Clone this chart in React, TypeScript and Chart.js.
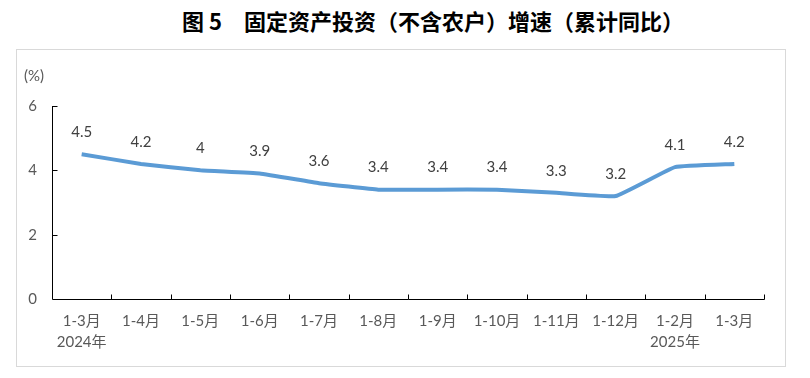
import React, { useEffect, useRef } from "react";
import { Chart, registerables } from "chart.js";

Chart.register(...registerables);

const categories: (string | string[])[] = [
  ["1-3月", "2024年"],
  "1-4月",
  "1-5月",
  "1-6月",
  "1-7月",
  "1-8月",
  "1-9月",
  "1-10月",
  "1-11月",
  "1-12月",
  ["1-2月", "2025年"],
  "1-3月",
];
const growth = [4.5, 4.2, 4.0, 3.9, 3.6, 3.4, 3.4, 3.4, 3.3, 3.2, 4.1, 4.2];
const yTicks = [0, 2, 4, 6];
const titleText = "图 5　固定资产投资（不含农户）增速（累计同比）";
const unitText = "(%)";

const FONT = "Lato, 'Noto Sans CJK SC', sans-serif";

const decor = {
  id: "decor",
  afterDatasetsDraw(chart: any) {
    const { ctx, chartArea, scales } = chart;
    const { left, right, top, bottom } = chartArea;
    const y = scales.y;
    ctx.save();
    ctx.strokeStyle = "#000";
    ctx.lineWidth = 1;
    ctx.beginPath();
    const lx = Math.round(left) + 0.5;
    const by = Math.round(bottom) + 0.5;
    ctx.moveTo(lx, Math.round(top));
    ctx.lineTo(lx, by);
    ctx.lineTo(Math.round(right) + 0.5, by);
    for (const v of yTicks) {
      if (v === 0) continue;
      const py = Math.round(y.getPixelForValue(v)) + 0.5;
      ctx.moveTo(lx, py);
      ctx.lineTo(lx + 5, py);
    }
    const n = categories.length;
    for (let i = 1; i <= n; i++) {
      const px = Math.round(left + ((right - left) * i) / n) + 0.5;
      ctx.moveTo(px, by);
      ctx.lineTo(px, by - 5);
    }
    ctx.stroke();

    // data labels
    const meta = chart.getDatasetMeta(0);
    ctx.fillStyle = "#404040";
    ctx.font = `15px ${FONT}`;
    ctx.textAlign = "center";
    ctx.textBaseline = "middle";
    meta.data.forEach((pt: any, i: number) => {
      ctx.fillText(String(growth[i]), pt.x, pt.y - 22);
    });

    // unit
    ctx.fillStyle = "#595959";
    ctx.textAlign = "left";
    ctx.font = `15px ${FONT}`;
    ctx.fillText(unitText, 7, 26);
    ctx.restore();
  },
};

export default function App() {
  const ref = useRef<HTMLCanvasElement>(null);
  useEffect(() => {
    document.body.style.margin = "0";
    const chart = new Chart(ref.current!, {
      type: "line",
      data: {
        labels: categories,
        datasets: [
          {
            data: growth,
            borderColor: "#5B9BD5",
            borderWidth: 4,
            pointRadius: 0,
            pointHoverRadius: 0,
            tension: 0.1,
            fill: false,
          },
        ],
      },
      options: {
        animation: false,
        responsive: false,
        events: [],
        layout: { padding: { top: 56, right: 21, bottom: 0, left: 0 } },
        plugins: {
          legend: { display: false },
          tooltip: { enabled: false },
          title: { display: false },
        },
        scales: {
          x: {
            offset: true,
            grid: { display: false, drawTicks: false },
            border: { display: false },
            ticks: {
              color: "#595959",
              font: { family: FONT, size: 15, lineHeight: 1.4 },
              padding: 12,
              maxRotation: 0,
              autoSkip: false,
            },
            afterFit(scale: any) {
              scale.height = 67;
            },
          },
          y: {
            min: 0,
            max: 6,
            grid: { display: false, drawTicks: false },
            border: { display: false },
            ticks: {
              stepSize: 2,
              color: "#595959",
              font: { family: FONT, size: 15 },
              padding: 15,
            },
            afterFit(scale: any) {
              scale.width = 35;
            },
          },
        },
      },
      plugins: [decor],
    });
    return () => chart.destroy();
  }, []);

  return (
    <div style={{ position: "relative", width: 810, height: 378, background: "#fff" }}>
      <div
        style={{
          position: "absolute",
          left: 56,
          top: 0,
          width: 754,
          height: 44,
          lineHeight: "40px",
          textAlign: "center",
          fontFamily: "'Noto Sans CJK SC', sans-serif",
          fontWeight: 700,
          fontSize: 22,
          color: "#000",
          whiteSpace: "pre",
        }}
      >
        {titleText}
      </div>
      <div
        style={{
          position: "absolute",
          left: 16,
          top: 49,
          width: 770,
          height: 318,
          boxSizing: "border-box",
          border: "1px solid #d9d9d9",
        }}
      >
        <canvas ref={ref} width={768} height={316} style={{ display: "block" }} />
      </div>
    </div>
  );
}
